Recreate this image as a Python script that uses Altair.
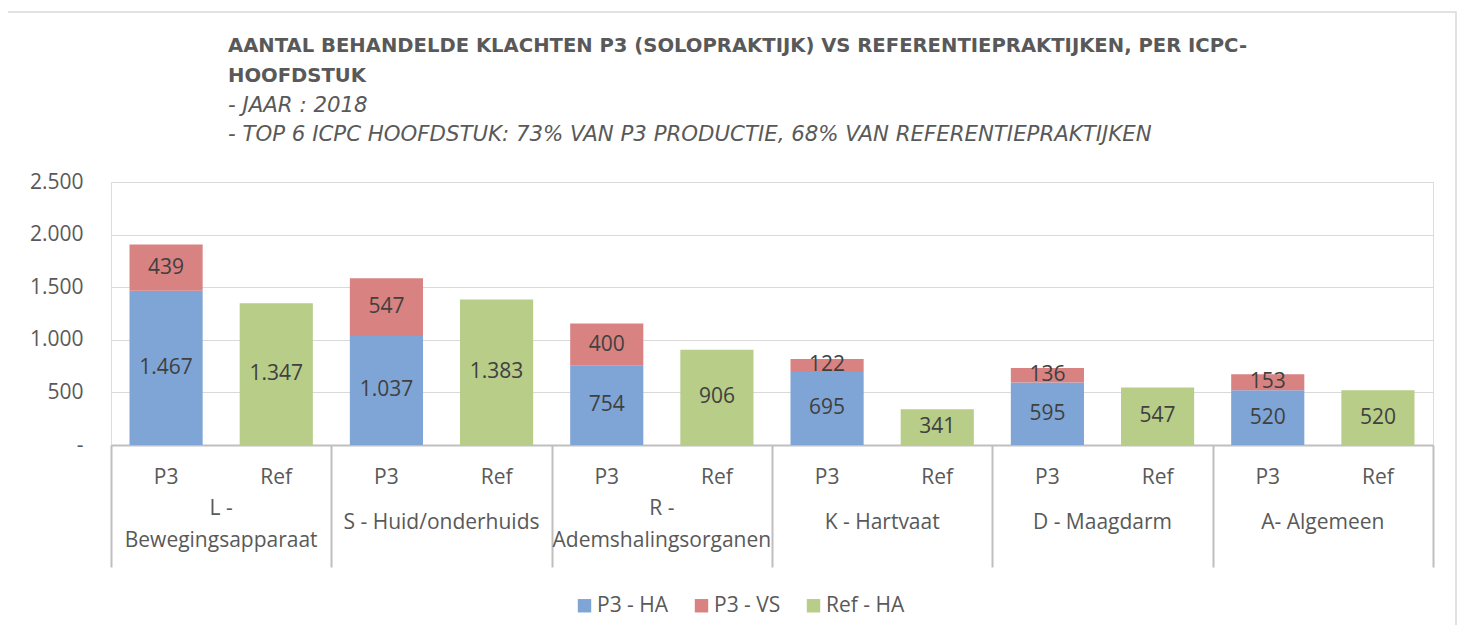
import altair as alt
import pandas as pd

# ---- data ----
group_keys = ["L", "S", "R", "K", "D", "A"]
group_labels = ["L -\nBewegingsapparaat", "S - Huid/onderhuids", "R -\nAdemshalingsorganen",
                "K - Hartvaat", "D - Maagdarm", "A- Algemeen"]
sub_keys = ["P3", "Ref"]
series = ["P3 - HA", "P3 - VS", "Ref - HA"]
colors = ["#7FA5D6", "#D98282", "#B7CD88"]
p3_ha = [1467, 1037, 754, 695, 595, 520]
p3_vs = [439, 547, 400, 122, 136, 153]
ref_ha = [1347, 1383, 906, 341, 547, 520]
y_ticks = [0, 500, 1000, 1500, 2000, 2500]

title_lines = ["AANTAL BEHANDELDE KLACHTEN P3 (SOLOPRAKTIJK) VS REFERENTIEPRAKTIJKEN, PER ICPC-",
               "HOOFDSTUK"]
subtitle_lines = ["- JAAR : 2018",
                  "- TOP 6 ICPC HOOFDSTUK: 73% VAN P3 PRODUCTIE, 68% VAN REFERENTIEPRAKTIJKEN"]


def fmt(v):
    return f"{v:,}".replace(",", ".")


rows = []
for g, a, b, c in zip(group_keys, p3_ha, p3_vs, ref_ha):
    rows.append(dict(group=g, sub="P3", series="P3 - HA", y0=0, y1=a, mid=a / 2, label=fmt(a)))
    rows.append(dict(group=g, sub="P3", series="P3 - VS", y0=a, y1=a + b, mid=a + b / 2, label=fmt(b)))
    rows.append(dict(group=g, sub="Ref", series="Ref - HA", y0=0, y1=c, mid=c / 2, label=fmt(c)))
df = pd.DataFrame(rows)

subs = pd.DataFrame([dict(group=g, sub=s) for g in group_keys for s in sub_keys])
grp = pd.DataFrame(dict(group=group_keys, glabel=group_labels,
                        nlines=[lbl.count("\n") + 1 for lbl in group_labels]))
frame = pd.DataFrame(dict(k=[0]))

W, H = 1322, 263
FONT = "Open Sans"
TFONT = "DejaVu Sans"
GREY = "#595959"
LINE = "#BFBFBF"

xscale = alt.Scale(domain=group_keys, paddingInner=0, paddingOuter=0)
xoff = alt.XOffset("sub:N", scale=alt.Scale(domain=sub_keys, paddingInner=0.336, paddingOuter=0.168))

bars = alt.Chart(df).mark_bar().encode(
    x=alt.X("group:N", scale=xscale, sort=group_keys,
            axis=alt.Axis(labels=False, title=None, domainColor=LINE, domainWidth=2,
                          ticks=True, tickBand="extent", tickSize=122, tickColor=LINE,
                          tickWidth=2, grid=False)),
    xOffset=xoff,
    y=alt.Y("y0:Q", scale=alt.Scale(domain=[0, 2500], nice=False),
            axis=alt.Axis(values=y_ticks, title=None, domain=False, ticks=False,
                          grid=True, gridColor="#D9D9D9", gridWidth=1,
                          labelPadding=28, labelFontSize=21, labelFont=FONT, labelColor=GREY,
                          labelExpr="datum.value == 0 ? '-\u2007\u2007' : replace(format(datum.value, ','), ',', '.')")),
    y2="y1:Q",
    color=alt.Color("series:N", scale=alt.Scale(domain=series, range=colors),
                    legend=alt.Legend(title=None, orient="none", legendX=463, legendY=413,
                                      direction="horizontal", symbolType="square", symbolSize=180,
                                      symbolStrokeWidth=0, symbolOpacity=1, labelFontSize=21,
                                      labelFont=FONT, labelColor=GREY, labelOffset=2,
                                      columnPadding=22)),
)

values = alt.Chart(df).mark_text(font=FONT, fontSize=21, color="#404040", baseline="middle").encode(
    x=alt.X("group:N", scale=xscale, sort=group_keys),
    xOffset=xoff,
    y=alt.Y("mid:Q"),
    text="label:N",
)

sublabels = alt.Chart(subs).mark_text(font=FONT, fontSize=21, color=GREY, baseline="middle").encode(
    x=alt.X("group:N", scale=xscale, sort=group_keys),
    xOffset=xoff,
    y=alt.value(296),
    text="sub:N",
)

grp_one = alt.Chart(grp).transform_filter("datum.nlines == 1").mark_text(
    font=FONT, fontSize=21, color=GREY, baseline="middle", lineBreak="\n", lineHeight=32).encode(
    x=alt.X("group:N", scale=xscale, sort=group_keys),
    y=alt.value(341),
    text="glabel:N",
)
grp_two = alt.Chart(grp).transform_filter("datum.nlines == 2").mark_text(
    font=FONT, fontSize=21, color=GREY, baseline="middle", lineBreak="\n", lineHeight=32).encode(
    x=alt.X("group:N", scale=xscale, sort=group_keys),
    y=alt.value(327),
    text="glabel:N",
)

border = alt.Chart(frame).mark_rect(fillOpacity=0, stroke="#D9D9D9", strokeWidth=1.5).encode(
    x=alt.value(-104), x2=alt.value(W + 23), y=alt.value(-170), y2=alt.value(H + 200),
)

chart = alt.layer(border, bars, values, sublabels, grp_one, grp_two).properties(
    width=W, height=H,
    title=alt.TitleParams(text=title_lines, subtitle=subtitle_lines, anchor="start", frame="group",
                          dx=117, offset=-135, font=TFONT, fontSize=19.6, fontWeight="bold", color=GREY,
                          lineHeight=30, subtitleFont=TFONT, subtitleFontSize=21.3,
                          subtitleFontStyle="italic", subtitleColor=GREY, subtitleLineHeight=29,
                          subtitlePadding=8),
    padding={"left": 103, "top": 174, "right": 24, "bottom": 180},
    autosize=alt.AutoSizeParams(type="none"),
).configure_view(stroke=None).configure(background="white")

chart.save("out.html", embed_options={"renderer": "svg", "actions": False})
